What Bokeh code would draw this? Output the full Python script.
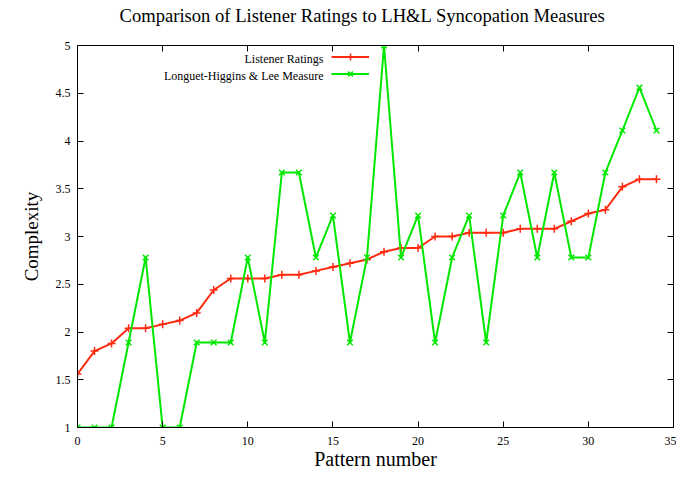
from bokeh.plotting import figure
from bokeh.models import (Range1d, FixedTicker, LinearAxis, Legend, LegendItem,
                          Label, CustomJSTickFormatter)
from bokeh.embed import file_html
from bokeh.resources import INLINE

pattern = list(range(35))
listener = [1.56, 1.80, 1.88, 2.04, 2.04, 2.08, 2.12, 2.20, 2.44, 2.56,
            2.56, 2.56, 2.60, 2.60, 2.64, 2.68, 2.72, 2.76, 2.84, 2.88,
            2.88, 3.00, 3.00, 3.04, 3.04, 3.04, 3.08, 3.08, 3.08, 3.16,
            3.24, 3.28, 3.52, 3.60, 3.60]
lhl = [1.00, 1.00, 1.00, 1.89, 2.78, 1.00, 1.00, 1.89, 1.89, 1.89,
       2.78, 1.89, 3.67, 3.67, 2.78, 3.22, 1.89, 2.78, 5.00, 2.78,
       3.22, 1.89, 2.78, 3.22, 1.89, 3.22, 3.67, 2.78, 3.67, 2.78,
       2.78, 3.67, 4.11, 4.56, 4.11]
xticks = [0, 5, 10, 15, 20, 25, 30, 35]
yticks = [1, 1.5, 2, 2.5, 3, 3.5, 4, 4.5, 5]
series_names = ["Listener Ratings", "Longuet-Higgins & Lee Measure"]

RED = "#ff2a10"
GREEN = "#00e800"
FONT = "Liberation Serif"

p = figure(width=676, height=472, output_backend="svg", toolbar_location=None,
           x_range=Range1d(0, 35), y_range=Range1d(1, 5),
           min_border_left=77, min_border_right=3, min_border_top=45,
           min_border_bottom=42)
p.xgrid.visible = False
p.ygrid.visible = False
p.outline_line_color = "black"
p.outline_line_width = 1

p.title.text = "Comparison of Listener Ratings to LH&L Syncopation Measures"
p.title.text_font = FONT
p.title.text_font_size = "18.6px"
p.title.text_font_style = "normal"
p.title.text_color = "black"
p.title.align = "left"
p.title.offset = 42
p.title.standoff = 4

def style_axis(ax, ticks):
    ax.ticker = FixedTicker(ticks=ticks, minor_ticks=[])
    ax.major_tick_in = 6
    ax.major_tick_out = 0
    ax.minor_tick_in = 0
    ax.minor_tick_out = 0
    ax.axis_line_color = "black"
    ax.major_tick_line_color = "black"
    ax.major_label_text_font = FONT
    ax.major_label_text_font_size = "12px"
    ax.major_label_text_color = "black"
    ax.axis_label_text_font = FONT
    ax.axis_label_text_font_size = "20px"
    ax.axis_label_text_font_style = "normal"
    ax.axis_label_text_color = "black"

xa = p.xaxis[0]
style_axis(xa, xticks)
xa.axis_label = "Pattern number"
xa.major_label_standoff = 9
xa.axis_label_standoff = 0

ya = p.yaxis[0]
style_axis(ya, yticks)
ya.axis_label = "Complexity"
ya.axis_label_text_font_size = "19px"
ya.major_label_standoff = 7
ya.axis_label_standoff = 11

blank = CustomJSTickFormatter(code="return ''")
top = LinearAxis(formatter=blank)
style_axis(top, xticks)
top.major_label_standoff = 0
top.axis_label = " "
top.axis_label_text_font_size = "12px"
top.axis_label_standoff = 1
p.add_layout(top, "above")
right = LinearAxis(formatter=blank)
style_axis(right, yticks)
right.major_label_standoff = 0
p.add_layout(right, "right")

r1l = p.line(pattern, listener, line_color=RED, line_width=2)
r1m = p.scatter(pattern, listener, marker="cross", size=8, line_color=RED, line_width=1.5)
r2l = p.line(pattern, lhl, line_color=GREEN, line_width=2)
r2m = p.scatter(pattern, lhl, marker="x", size=8, line_color=GREEN, line_width=1.5)

legend = Legend(items=[LegendItem(label=" ", renderers=[r1l, r1m]),
                       LegendItem(label=" ", renderers=[r2l, r2m])],
                location=(254, 345), glyph_width=38, glyph_height=17,
                label_height=17, spacing=0, padding=0, margin=0,
                label_width=0, label_standoff=0,
                background_fill_alpha=0, border_line_alpha=0,
                label_text_font_size="12px")
p.add_layout(legend, "center")

for name, yy in zip(series_names, [368.5, 351.5]):
    p.add_layout(Label(x=246, y=yy, x_units="screen", y_units="screen",
                       text=name, text_align="right", text_baseline="middle",
                       text_font=FONT, text_font_size="12px", text_color="black"))

open("out.html", "w").write(file_html(p, INLINE))
